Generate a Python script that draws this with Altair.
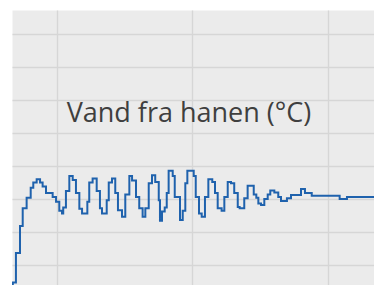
import altair as alt
import pandas as pd

# time (s) at each step start
time_s = [67.0, 67.4, 69.7, 72.7, 74.7, 77.6, 80.6, 82.5, 85.0, 87.5,
          89.4, 91.9, 96.8, 99.3, 101.7, 103.7, 104.6, 106.6, 109.1, 111.6,
          114.0, 116.5, 118.5, 122.4, 123.8, 126.3, 129.3, 131.7, 133.2, 136.7,
          138.2, 140.6, 143.0, 145.0, 148.0, 150.4, 153.4, 155.4, 158.3, 160.7,
          163.2, 165.2, 167.7, 170.1, 172.5, 175.1, 176.0, 177.5, 179.5, 181.0,
          182.4, 185.4, 186.9, 190.8, 192.8, 194.7, 196.2, 200.9, 202.4, 204.8,
          206.8, 209.2, 211.7, 214.6, 216.6, 218.6, 221.5, 223.5, 226.0, 228.4,
          230.8, 233.4, 234.8, 238.2, 240.7, 245.2, 247.1, 248.6, 250.6, 253.0,
          255.5, 257.4, 260.4, 263.3, 265.3, 269.7, 272.7, 280.1, 283.0, 288.0,
          308.6, 314.0, 341.3]

# water temperature (°C)
temp_c = [25.3, 27.3, 31.8, 35.9, 38.6, 40.2, 41.7, 42.5, 43.0, 42.5,
          41.9, 40.9, 40.3, 39.6, 38.2, 37.8, 38.7, 41.2, 43.5, 42.9,
          40.9, 38.5, 37.8, 39.6, 42.5, 43.1, 41.2, 38.6, 37.8, 39.8,
          42.5, 43.1, 40.9, 38.3, 37.3, 40.7, 43.5, 42.8, 40.3, 38.6,
          37.3, 38.6, 42.4, 43.6, 42.6, 39.8, 36.7, 38.1, 38.7, 40.9,
          44.3, 43.5, 40.3, 36.8, 38.2, 42.4, 44.3, 43.5, 40.3, 37.8,
          37.3, 40.3, 43.0, 42.6, 40.9, 38.6, 38.2, 40.3, 42.6, 42.4,
          40.9, 38.8, 38.6, 40.1, 42.0, 40.7, 40.2, 39.3, 39.1, 40.0,
          40.7, 41.3, 41.0, 40.3, 39.7, 40.1, 40.6, 41.5, 40.9, 40.5,
          40.0, 40.3, 40.3]

x_grid = [100, 200, 300]
y_grid = [30, 35, 40, 45, 50, 55, 60, 65]
x_domain = [66.8, 333.95]
y_domain = [26.93, 68.72]
label = "Vand fra hanen (°C)"

df = pd.DataFrame({"t": time_s, "temp": temp_c})

axis_x = alt.Axis(values=x_grid, labels=False, ticks=False, domain=False, title=None,
                  grid=True, gridColor="#d6d6d6", gridWidth=1.4)
axis_y = alt.Axis(values=y_grid, labels=False, ticks=False, domain=False, title=None,
                  grid=True, gridColor="#d6d6d6", gridWidth=1.4)

line = alt.Chart(df).mark_line(interpolate="step-after", color="#1f62ad",
                               strokeWidth=2, clip=True).encode(
    x=alt.X("t:Q", scale=alt.Scale(domain=x_domain, nice=False, zero=False), axis=axis_x),
    y=alt.Y("temp:Q", scale=alt.Scale(domain=y_domain, nice=False, zero=False), axis=axis_y),
)

text = alt.Chart(pd.DataFrame({"label": [label]})).mark_text(
    font="Open Sans", fontSize=27, color="#3f3f3f", align="center",
    baseline="alphabetic").encode(
    text="label:N", x=alt.value(177), y=alt.value(112))

chart = alt.layer(line, text).properties(
    width=362, height=275,
    padding={"left": 4, "top": 2, "right": 0, "bottom": 0},
    autosize=alt.AutoSizeParams(type="none"),
    background="white",
).configure_view(fill="#ebebeb", stroke="transparent")

chart.save("out.html", embed_options={"renderer": "svg", "actions": False})
